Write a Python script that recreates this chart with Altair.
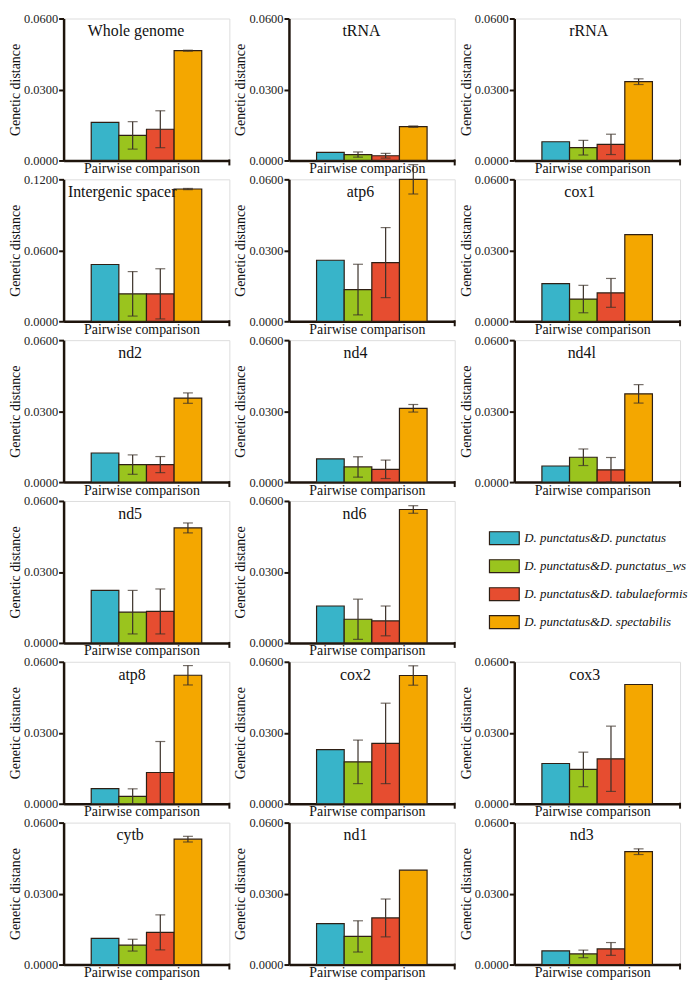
import altair as alt
import pandas as pd

# ---------------- data ----------------
comparisons = [
    "D. punctatus&D. punctatus",
    "D. punctatus&D. punctatus_ws",
    "D. punctatus&D. tabulaeformis",
    "D. punctatus&D. spectabilis",
]
colors = ["#38b4c9", "#9ac41e", "#e64d30", "#f4a700"]

whole_genome = [0.0161, 0.0106, 0.0132, 0.0464]
whole_genome_sd = [0.0, 0.0058, 0.0078, 0.0002]
trna = [0.0034, 0.0025, 0.0020, 0.0143]
trna_sd = [0.0, 0.0011, 0.0010, 0.0003]
rrna = [0.0079, 0.0054, 0.0068, 0.0333]
rrna_sd = [0.0, 0.0031, 0.0043, 0.0012]
intergenic = [0.0480, 0.0232, 0.0232, 0.1118]
intergenic_sd = [0.0, 0.0188, 0.0212, 0.0005]
atp6 = [0.0258, 0.0134, 0.0248, 0.0600]
atp6_sd = [0.0, 0.0107, 0.0148, 0.0062]
cox1 = [0.0159, 0.0094, 0.0120, 0.0366]
cox1_sd = [0.0, 0.0058, 0.0061, 0.0]
nd2 = [0.0123, 0.0074, 0.0074, 0.0355]
nd2_sd = [0.0, 0.0041, 0.0034, 0.0022]
nd4 = [0.0098, 0.0064, 0.0054, 0.0312]
nd4_sd = [0.0, 0.0043, 0.0039, 0.0016]
nd4l = [0.0068, 0.0105, 0.0052, 0.0373]
nd4l_sd = [0.0, 0.0035, 0.0052, 0.0039]
nd5 = [0.0222, 0.0130, 0.0133, 0.0486]
nd5_sd = [0.0, 0.0092, 0.0095, 0.0021]
nd6 = [0.0156, 0.0100, 0.0093, 0.0564]
nd6_sd = [0.0, 0.0085, 0.0063, 0.0016]
atp8 = [0.0064, 0.0031, 0.0132, 0.0543]
atp8_sd = [0.0, 0.0032, 0.0131, 0.0041]
cox2 = [0.0229, 0.0177, 0.0255, 0.0542]
cox2_sd = [0.0, 0.0092, 0.0170, 0.0041]
cox3 = [0.0170, 0.0145, 0.0190, 0.0504]
cox3_sd = [0.0, 0.0073, 0.0138, 0.0]
cytb = [0.0111, 0.0082, 0.0136, 0.0530]
cytb_sd = [0.0, 0.0025, 0.0074, 0.0012]
nd1 = [0.0173, 0.0119, 0.0197, 0.0399]
nd1_sd = [0.0, 0.0066, 0.0080, 0.0]
nd3 = [0.0058, 0.0045, 0.0066, 0.0477]
nd3_sd = [0.0, 0.0016, 0.0027, 0.0012]

W, H = 167, 143
FONT = "Liberation Serif"
DARK = "#1e140c"
color_scale = alt.Scale(domain=comparisons, range=colors)


def panel(name, vals, sds, ymax, title_x=70):
    df = pd.DataFrame({"comp": comparisons, "value": vals, "sd": sds})
    df["lo"] = df["value"] - df["sd"]
    df["hi"] = df["value"] + df["sd"]
    step = ymax / 2
    ticks = [ymax * i / 4 for i in range(5)]
    x = alt.X(
        "comp:N",
        sort=comparisons,
        scale=alt.Scale(paddingInner=0, paddingOuter=1),
        axis=alt.Axis(
            title="Pairwise comparison", labels=False, ticks=False,
            domainColor=DARK, domainWidth=2.5, titlePadding=1,
            titleX=W * 0.47, titleAlign="center",
            titleFont=FONT, titleFontSize=14, titleFontWeight="normal",
            titleColor="#111",
        ),
    )
    y = alt.Y(
        "value:Q",
        scale=alt.Scale(domain=[0, ymax], nice=False),
        axis=alt.Axis(
            title="Genetic distance", values=ticks, grid=False,
            labelExpr=f"abs(datum.value/{step} - round(datum.value/{step})) < 1e-6 ? format(datum.value, '.4f') : ''",
            tickSize=5, tickWidth=2, tickColor=DARK, labelPadding=1,
            domainColor=DARK, domainWidth=2.5,
            labelFont=FONT, labelFontSize=12.5, labelColor="#222",
            titleFont=FONT, titleFontSize=14, titleFontWeight="normal",
            titleColor="#111", titlePadding=1,
        ),
    )
    base = alt.Chart(df)
    bars = base.mark_bar(stroke="#2e1f14", strokeWidth=1.2).encode(
        x=x, y=y, color=alt.Color("comp:N", scale=color_scale, legend=None)
    )
    err = base.transform_filter("datum.sd > 0")
    stem = err.mark_rule(color="#3a3028", strokeWidth=1.2).encode(
        x=alt.X("comp:N", sort=comparisons), y="lo:Q", y2="hi:Q"
    )
    cap_lo = err.mark_tick(color="#3a3028", thickness=1.2, size=10).encode(
        x=alt.X("comp:N", sort=comparisons), y="lo:Q"
    )
    cap_hi = err.mark_tick(color="#3a3028", thickness=1.2, size=10).encode(
        x=alt.X("comp:N", sort=comparisons), y="hi:Q"
    )
    title = alt.Chart(pd.DataFrame({"t": [name]})).mark_text(
        font=FONT, fontSize=16, color="#111", align="center", baseline="middle"
    ).encode(x=alt.value(title_x), y=alt.value(13), text="t:N")
    end_tick = alt.Chart(pd.DataFrame({"t": [0]})).mark_rule(
        color=DARK, strokeWidth=2
    ).encode(x=alt.value(W), y=alt.value(H - 1), y2=alt.value(H + 5))
    return alt.layer(bars, stem, cap_lo, cap_hi, title, end_tick).properties(
        width=W, height=H
    )


def legend_panel():
    df = pd.DataFrame({"comp": comparisons})
    yscale = alt.Scale(domain=comparisons, range=[31, 128.6], paddingInner=0.539, paddingOuter=0)
    base = alt.Chart(df)
    sw = base.mark_rect(stroke="#2e1f14", strokeWidth=1.2).encode(
        x=alt.value(-25), x2=alt.value(5),
        y=alt.Y("comp:N", sort=comparisons, scale=yscale, axis=None),
        color=alt.Color("comp:N", scale=color_scale, legend=None),
    )
    tx = base.mark_text(
        font=FONT, fontSize=13, fontStyle="italic", color="#111",
        align="left", baseline="middle",
    ).encode(
        x=alt.value(10),
        y=alt.Y("comp:N", sort=comparisons, scale=yscale, axis=None),
        text="comp:N",
    )
    return alt.layer(sw, tx).properties(width=W, height=H, view=alt.ViewConfig(stroke="transparent", strokeWidth=0))


charts = [
    panel("Whole genome", whole_genome, whole_genome_sd, 0.06, 73),
    panel("tRNA", trna, trna_sd, 0.06, 73),
    panel("rRNA", rrna, rrna_sd, 0.06, 75),
    panel("Intergenic spacer", intergenic, intergenic_sd, 0.12, 59),
    panel("atp6", atp6, atp6_sd, 0.06, 72),
    panel("cox1", cox1, cox1_sd, 0.06, 66),
    panel("nd2", nd2, nd2_sd, 0.06, 67),
    panel("nd4", nd4, nd4_sd, 0.06, 67),
    panel("nd4l", nd4l, nd4l_sd, 0.06, 68),
    panel("nd5", nd5, nd5_sd, 0.06, 67),
    panel("nd6", nd6, nd6_sd, 0.06, 66),
    legend_panel(),
    panel("atp8", atp8, atp8_sd, 0.06, 69),
    panel("cox2", cox2, cox2_sd, 0.06, 67),
    panel("cox3", cox3, cox3_sd, 0.06, 71),
    panel("cytb", cytb, cytb_sd, 0.06, 67),
    panel("nd1", nd1, nd1_sd, 0.06, 67),
    panel("nd3", nd3, nd3_sd, 0.06, 68),
]

chart = alt.concat(
    *charts, columns=3, spacing={"row": 19, "column": 60}, bounds="flush"
).properties(padding=0).configure_view(strokeWidth=0, stroke="transparent").configure(font=FONT)

chart.save("out.html", embed_options={"renderer": "svg", "actions": False})
